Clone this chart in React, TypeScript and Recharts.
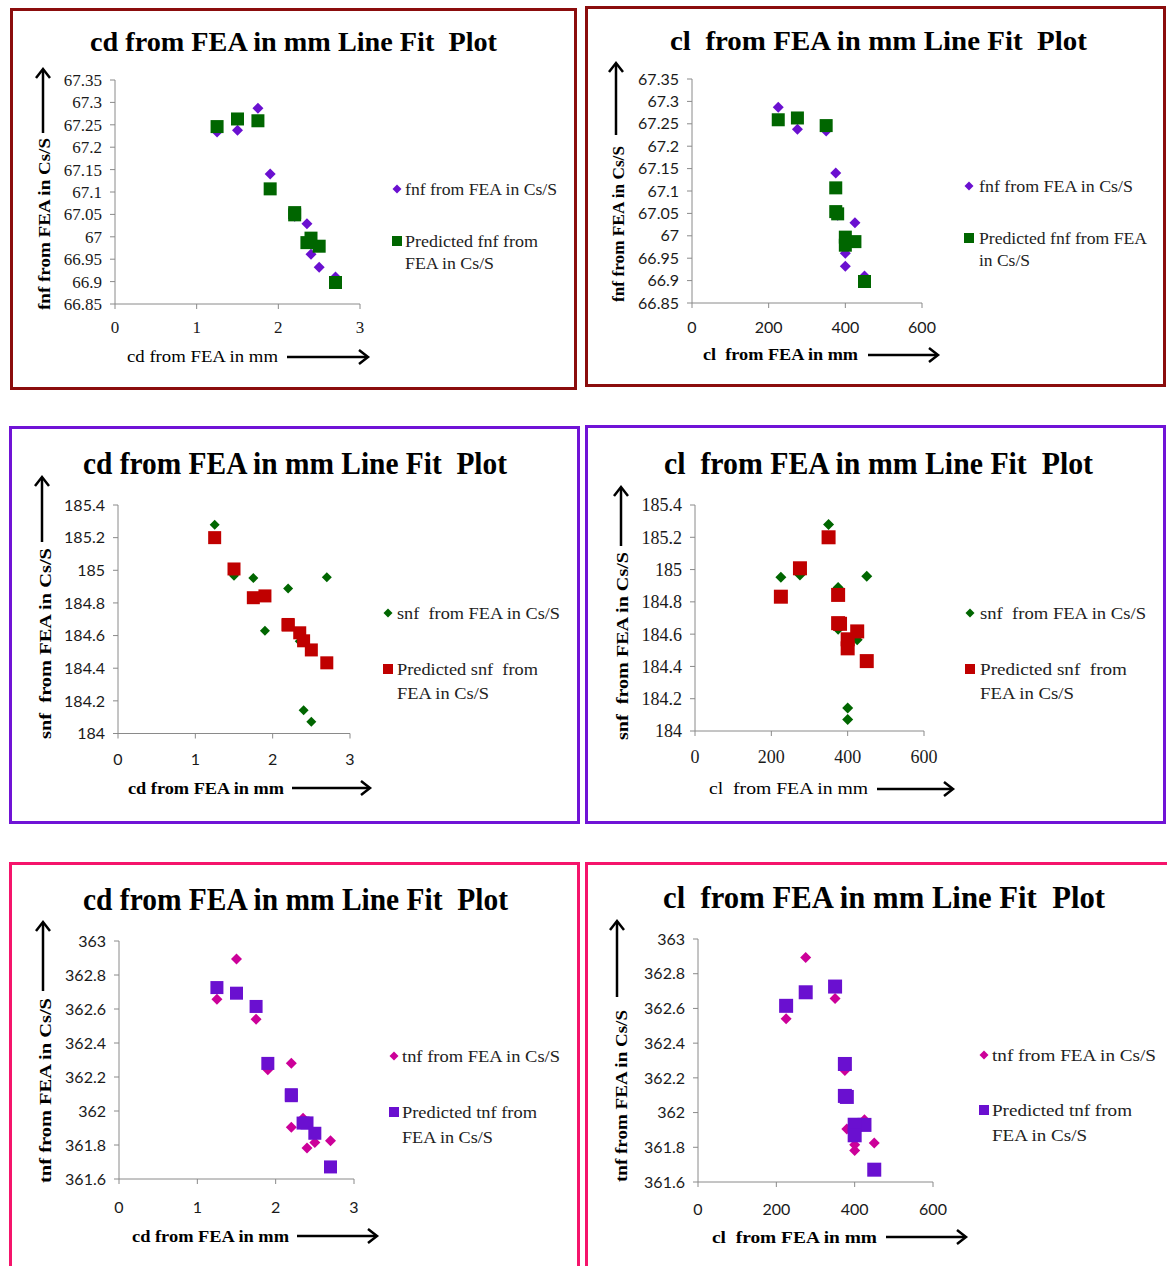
import React from 'react'
import { ScatterChart, Scatter, XAxis, YAxis } from 'recharts'

// ten FEA runs
const cdValues = [1.25, 1.5, 1.75, 1.9, 2.2, 2.2, 2.35, 2.4, 2.5, 2.7]
const clValues = [350, 275, 225, 375, 375, 380, 425, 400, 400, 450]

const fnfActual = [67.234, 67.238, 67.287, 67.14, 67.052, 67.046, 67.029, 66.961, 66.932, 66.91]
const fnfPredicted = [67.246, 67.263, 67.259, 67.107, 67.054, 67.049, 66.987, 66.997, 66.979, 66.898]

const snfActual = [185.279, 184.967, 184.952, 184.63, 184.889, 184.66, 184.565, 184.142, 184.072, 184.958]
const snfPredicted = [185.2, 185.008, 184.832, 184.843, 184.668, 184.664, 184.617, 184.568, 184.512, 184.433]

const tnfActual = [362.657, 362.894, 362.54, 362.242, 362.281, 361.905, 361.958, 361.782, 361.815, 361.825]
const tnfPredicted = [362.726, 362.693, 362.615, 362.28, 362.096, 362.09, 361.929, 361.93, 361.869, 361.671]

const cdTicks = [0, 1, 2, 3]
const clTicks = [0, 200, 400, 600]
const fnfTicks = [66.85, 66.9, 66.95, 67, 67.05, 67.1, 67.15, 67.2, 67.25, 67.3, 67.35]
const snfTicks = [184, 184.2, 184.4, 184.6, 184.8, 185, 185.2, 185.4]
const tnfTicks = [361.6, 361.8, 362, 362.2, 362.4, 362.6, 362.8, 363]

const PURPLE = '#6a10d0'
const GREEN = '#006600'
const RED = '#c00000'
const MAGENTA = '#cc0099'

const SERIF = '"Liberation Serif", "Times New Roman", serif'
const SANS = 'Lato, "Open Sans", sans-serif'

const fmt = (v: number) => String(Number(v.toFixed(2)))

const pairs = (xs: number[], ys: number[]) => xs.map((x, i) => ({ x, y: ys[i] }))

const diamond = (color: string, r: number) => (p: any) => (
  <polygon
    points={`${p.cx},${p.cy - r} ${p.cx + r},${p.cy} ${p.cx},${p.cy + r} ${p.cx - r},${p.cy}`}
    fill={color}
  />
)
const square = (color: string, s: number) => (p: any) => (
  <rect x={p.cx - s / 2} y={p.cy - s / 2} width={s} height={s} fill={color} />
)

type Panel = {
  frame: { x: number; y: number; w: number; h: number; color: string }
  title: { text: string; x1: number; x2: number; y: number; size: number }
  plot: { l: number; r: number; t: number; b: number }
  xs: number[]
  actual: number[]
  predicted: number[]
  xDomain: [number, number]
  xTicks: number[]
  yDomain: [number, number]
  yTicks: number[]
  actualColor: string
  predColor: string
  dR: number
  sq: number
  tickFont: string
  tickSize: number
  xTickGap: number
  xLabel: { text: string; x1: number; x2: number; y: number; bold: boolean }
  arrowX: { x1: number; x2: number; y: number }
  yLabel: { text: string; x: number; y1: number; y2: number }
  arrowY: { x: number; y1: number; y2: number }
  legend: {
    mx: number
    tx: number
    y1: number
    y2: number
    gap: number
    first: { text: string; w: number }
    second: { text: string; w: number }[]
  }
}

const panels: Panel[] = [
  {
    frame: { x: 10, y: 8, w: 567, h: 382, color: '#8b0d0d' },
    title: { text: 'cd from FEA in mm Line Fit  Plot', x1: 90, x2: 497, y: 51, size: 28 },
    plot: { l: 115, r: 360, t: 80, b: 304 },
    xs: cdValues, actual: fnfActual, predicted: fnfPredicted,
    xDomain: [0, 3], xTicks: cdTicks, yDomain: [66.85, 67.35], yTicks: fnfTicks,
    actualColor: PURPLE, predColor: GREEN, dR: 5.5, sq: 13,
    tickFont: SERIF, tickSize: 17, xTickGap: 12,
    xLabel: { text: 'cd from FEA in mm', x1: 127, x2: 278, y: 356, bold: false },
    arrowX: { x1: 287, x2: 368, y: 357 },
    yLabel: { text: 'fnf from FEA in Cs/S', x: 44, y1: 310, y2: 138 },
    arrowY: { x: 43, y1: 133, y2: 69 },
    legend: {
      mx: 397, tx: 405, y1: 189, y2: 241, gap: 22,
      first: { text: 'fnf from FEA in Cs/S', w: 152 },
      second: [{ text: 'Predicted fnf from', w: 133 }, { text: 'FEA in Cs/S', w: 89 }],
    },
  },
  {
    frame: { x: 585, y: 6, w: 581, h: 381, color: '#8b0d0d' },
    title: { text: 'cl  from FEA in mm Line Fit  Plot', x1: 670, x2: 1087, y: 50, size: 28 },
    plot: { l: 692, r: 922, t: 79, b: 303 },
    xs: clValues, actual: fnfActual, predicted: fnfPredicted,
    xDomain: [0, 600], xTicks: clTicks, yDomain: [66.85, 67.35], yTicks: fnfTicks,
    actualColor: PURPLE, predColor: GREEN, dR: 5.5, sq: 13,
    tickFont: SANS, tickSize: 16, xTickGap: 14,
    xLabel: { text: 'cl  from FEA in mm', x1: 703, x2: 858, y: 354, bold: true },
    arrowX: { x1: 868, x2: 938, y: 355 },
    yLabel: { text: 'fnf from FEA in Cs/S', x: 618, y1: 302, y2: 146 },
    arrowY: { x: 616, y1: 135, y2: 63 },
    legend: {
      mx: 969, tx: 979, y1: 186, y2: 238, gap: 22,
      first: { text: 'fnf from FEA in Cs/S', w: 154 },
      second: [{ text: 'Predicted fnf from FEA', w: 168 }, { text: 'in Cs/S', w: 51 }],
    },
  },
  {
    frame: { x: 9, y: 426, w: 571, h: 398, color: '#7013d6' },
    title: { text: 'cd from FEA in mm Line Fit  Plot', x1: 83, x2: 507, y: 474, size: 32 },
    plot: { l: 118, r: 350, t: 504.5, b: 733 },
    xs: cdValues, actual: snfActual, predicted: snfPredicted,
    xDomain: [0, 3], xTicks: cdTicks, yDomain: [184, 185.4], yTicks: snfTicks,
    actualColor: GREEN, predColor: RED, dR: 5, sq: 13,
    tickFont: SANS, tickSize: 16, xTickGap: 15,
    xLabel: { text: 'cd from FEA in mm', x1: 128, x2: 284, y: 788, bold: true },
    arrowX: { x1: 292, x2: 370, y: 788 },
    yLabel: { text: 'snf  from FEA in Cs/S', x: 45, y1: 739, y2: 548 },
    arrowY: { x: 42, y1: 542, y2: 477 },
    legend: {
      mx: 388, tx: 397, y1: 613, y2: 669, gap: 24,
      first: { text: 'snf  from FEA in Cs/S', w: 163 },
      second: [{ text: 'Predicted snf  from', w: 141 }, { text: 'FEA in Cs/S', w: 92 }],
    },
  },
  {
    frame: { x: 585, y: 425, w: 581, h: 399, color: '#7013d6' },
    title: { text: 'cl  from FEA in mm Line Fit  Plot', x1: 664, x2: 1093, y: 474, size: 32 },
    plot: { l: 695, r: 924, t: 505, b: 731 },
    xs: clValues, actual: snfActual, predicted: snfPredicted,
    xDomain: [0, 600], xTicks: clTicks, yDomain: [184, 185.4], yTicks: snfTicks,
    actualColor: GREEN, predColor: RED, dR: 5.5, sq: 14,
    tickFont: SERIF, tickSize: 18, xTickGap: 14,
    xLabel: { text: 'cl  from FEA in mm', x1: 709, x2: 868, y: 788, bold: false },
    arrowX: { x1: 877, x2: 953, y: 789 },
    yLabel: { text: 'snf  from FEA in Cs/S', x: 622, y1: 740, y2: 552 },
    arrowY: { x: 621, y1: 546, y2: 487 },
    legend: {
      mx: 970, tx: 980, y1: 613, y2: 669, gap: 24,
      first: { text: 'snf  from FEA in Cs/S', w: 166 },
      second: [{ text: 'Predicted snf  from', w: 147 }, { text: 'FEA in Cs/S', w: 94 }],
    },
  },
  {
    frame: { x: 9, y: 862, w: 571, h: 420, color: '#f5146b' },
    title: { text: 'cd from FEA in mm Line Fit  Plot', x1: 83, x2: 508, y: 910, size: 32 },
    plot: { l: 119, r: 354, t: 941, b: 1179 },
    xs: cdValues, actual: tnfActual, predicted: tnfPredicted,
    xDomain: [0, 3], xTicks: cdTicks, yDomain: [361.6, 363], yTicks: tnfTicks,
    actualColor: MAGENTA, predColor: PURPLE, dR: 5.5, sq: 13,
    tickFont: SANS, tickSize: 16, xTickGap: 18,
    xLabel: { text: 'cd from FEA in mm', x1: 132, x2: 289, y: 1236, bold: true },
    arrowX: { x1: 297, x2: 377, y: 1236 },
    yLabel: { text: 'tnf from FEA in Cs/S', x: 45, y1: 1183, y2: 998 },
    arrowY: { x: 43, y1: 991, y2: 922 },
    legend: {
      mx: 394, tx: 402, y1: 1056, y2: 1112, gap: 25,
      first: { text: 'tnf from FEA in Cs/S', w: 158 },
      second: [{ text: 'Predicted tnf from', w: 135 }, { text: 'FEA in Cs/S', w: 91 }],
    },
  },
  {
    frame: { x: 585, y: 862, w: 590, h: 420, color: '#f5146b' },
    title: { text: 'cl  from FEA in mm Line Fit  Plot', x1: 663, x2: 1105, y: 908, size: 32 },
    plot: { l: 698, r: 933, t: 938.5, b: 1181.5 },
    xs: clValues, actual: tnfActual, predicted: tnfPredicted,
    xDomain: [0, 600], xTicks: clTicks, yDomain: [361.6, 363], yTicks: tnfTicks,
    actualColor: MAGENTA, predColor: PURPLE, dR: 5.5, sq: 14,
    tickFont: SANS, tickSize: 16, xTickGap: 17,
    xLabel: { text: 'cl  from FEA in mm', x1: 712, x2: 877, y: 1237, bold: true },
    arrowX: { x1: 886, x2: 966, y: 1237 },
    yLabel: { text: 'tnf from FEA in Cs/S', x: 621, y1: 1182, y2: 1010 },
    arrowY: { x: 617, y1: 997, y2: 921 },
    legend: {
      mx: 984, tx: 992, y1: 1055, y2: 1110, gap: 25,
      first: { text: 'tnf from FEA in Cs/S', w: 164 },
      second: [{ text: 'Predicted tnf from', w: 140 }, { text: 'FEA in Cs/S', w: 95 }],
    },
  },
]

const Y_AXIS_W = 70
const X_AXIS_H = 45
const PAD_TOP = 10
const PAD_RIGHT = 30

function PanelChart({ p }: { p: Panel }) {
  const { l, r, t, b } = p.plot
  const w = r - l + Y_AXIS_W + PAD_RIGHT
  const h = b - t + PAD_TOP + X_AXIS_H
  const tick = { fill: '#1a1a1a', fontSize: p.tickSize, fontFamily: p.tickFont }
  return (
    <div style={{ position: 'absolute', left: l - Y_AXIS_W, top: t - PAD_TOP }}>
      <ScatterChart width={w} height={h} margin={{ top: PAD_TOP, right: PAD_RIGHT, bottom: 0, left: 0 }}>
        <XAxis
          type="number"
          dataKey="x"
          domain={p.xDomain}
          ticks={p.xTicks}
          interval={0}
          height={X_AXIS_H}
          stroke="#8a8a8a"
          tickSize={5}
          tickMargin={p.xTickGap}
          tick={tick}
        />
        <YAxis
          type="number"
          dataKey="y"
          domain={p.yDomain}
          ticks={p.yTicks}
          interval={0}
          width={Y_AXIS_W}
          stroke="#8a8a8a"
          tickSize={5}
          tickMargin={8}
          tick={tick}
          tickFormatter={fmt}
        />
        <Scatter data={pairs(p.xs, p.actual)} shape={diamond(p.actualColor, p.dR)} isAnimationActive={false} />
        <Scatter data={pairs(p.xs, p.predicted)} shape={square(p.predColor, p.sq)} isAnimationActive={false} />
      </ScatterChart>
    </div>
  )
}

function Decorations({ p }: { p: Panel }) {
  const ySize = 17
  const xSize = 17
  const lg = p.legend
  return (
    <g>
      <text
        x={p.title.x1}
        y={p.title.y}
        textLength={p.title.x2 - p.title.x1}
        lengthAdjust="spacingAndGlyphs"
        fontFamily={SERIF}
        fontWeight="bold"
        fontSize={p.title.size}
        fill="#000"
        style={{ whiteSpace: 'pre' }}
      >
        {p.title.text}
      </text>

      <text
        x={p.xLabel.x1}
        y={p.xLabel.y + 0.33 * xSize}
        textLength={p.xLabel.x2 - p.xLabel.x1}
        lengthAdjust="spacingAndGlyphs"
        fontFamily={SERIF}
        fontWeight={p.xLabel.bold ? 'bold' : 'normal'}
        fontSize={xSize}
        fill="#000"
        style={{ whiteSpace: 'pre' }}
      >
        {p.xLabel.text}
      </text>
      <line x1={p.arrowX.x1} y1={p.arrowX.y} x2={p.arrowX.x2 - 1} y2={p.arrowX.y} stroke="#000" strokeWidth={2.5} />
      <polyline
        points={`${p.arrowX.x2 - 9},${p.arrowX.y - 7} ${p.arrowX.x2},${p.arrowX.y} ${p.arrowX.x2 - 9},${p.arrowX.y + 7}`}
        fill="none"
        stroke="#000"
        strokeWidth={2.5}
      />

      <text
        transform={`translate(${p.yLabel.x + 0.33 * ySize},${p.yLabel.y1}) rotate(-90)`}
        textLength={p.yLabel.y1 - p.yLabel.y2}
        lengthAdjust="spacingAndGlyphs"
        fontFamily={SERIF}
        fontWeight="bold"
        fontSize={ySize}
        fill="#000"
        style={{ whiteSpace: 'pre' }}
      >
        {p.yLabel.text}
      </text>
      <line x1={p.arrowY.x} y1={p.arrowY.y1} x2={p.arrowY.x} y2={p.arrowY.y2 + 1} stroke="#000" strokeWidth={2.5} />
      <polyline
        points={`${p.arrowY.x - 7},${p.arrowY.y2 + 9} ${p.arrowY.x},${p.arrowY.y2} ${p.arrowY.x + 7},${p.arrowY.y2 + 9}`}
        fill="none"
        stroke="#000"
        strokeWidth={2.5}
      />

      <polygon
        points={`${lg.mx},${lg.y1 - 4.5} ${lg.mx + 4.5},${lg.y1} ${lg.mx},${lg.y1 + 4.5} ${lg.mx - 4.5},${lg.y1}`}
        fill={p.actualColor}
      />
      <text
        x={lg.tx}
        y={lg.y1 + 6}
        textLength={lg.first.w}
        lengthAdjust="spacingAndGlyphs"
        fontFamily={SERIF}
        fontSize={17}
        fill="#222"
        style={{ whiteSpace: 'pre' }}
      >
        {lg.first.text}
      </text>
      <rect x={lg.mx - 5} y={lg.y2 - 5} width={10} height={10} fill={p.predColor} />
      {lg.second.map((line, i) => (
        <text
          key={i}
          x={lg.tx}
          y={lg.y2 + 6 + i * lg.gap}
          textLength={line.w}
          lengthAdjust="spacingAndGlyphs"
          fontFamily={SERIF}
          fontSize={17}
          fill="#222"
          style={{ whiteSpace: 'pre' }}
        >
          {line.text}
        </text>
      ))}
    </g>
  )
}

export default function App() {
  return (
    <div
      style={{
        position: 'absolute',
        left: 0,
        top: 0,
        width: 1167,
        height: 1266,
        background: '#fff',
        overflow: 'hidden',
      }}
    >
      {panels.map((p, i) => (
        <div
          key={'f' + i}
          style={{
            position: 'absolute',
            left: p.frame.x,
            top: p.frame.y,
            width: p.frame.w,
            height: p.frame.h,
            border: `3px solid ${p.frame.color}`,
            boxSizing: 'border-box',
            background: '#fff',
          }}
        />
      ))}
      {panels.map((p, i) => (
        <PanelChart key={'c' + i} p={p} />
      ))}
      <svg
        width={1167}
        height={1266}
        style={{ position: 'absolute', left: 0, top: 0, pointerEvents: 'none' }}
      >
        {panels.map((p, i) => (
          <Decorations key={'d' + i} p={p} />
        ))}
      </svg>
    </div>
  )
}
